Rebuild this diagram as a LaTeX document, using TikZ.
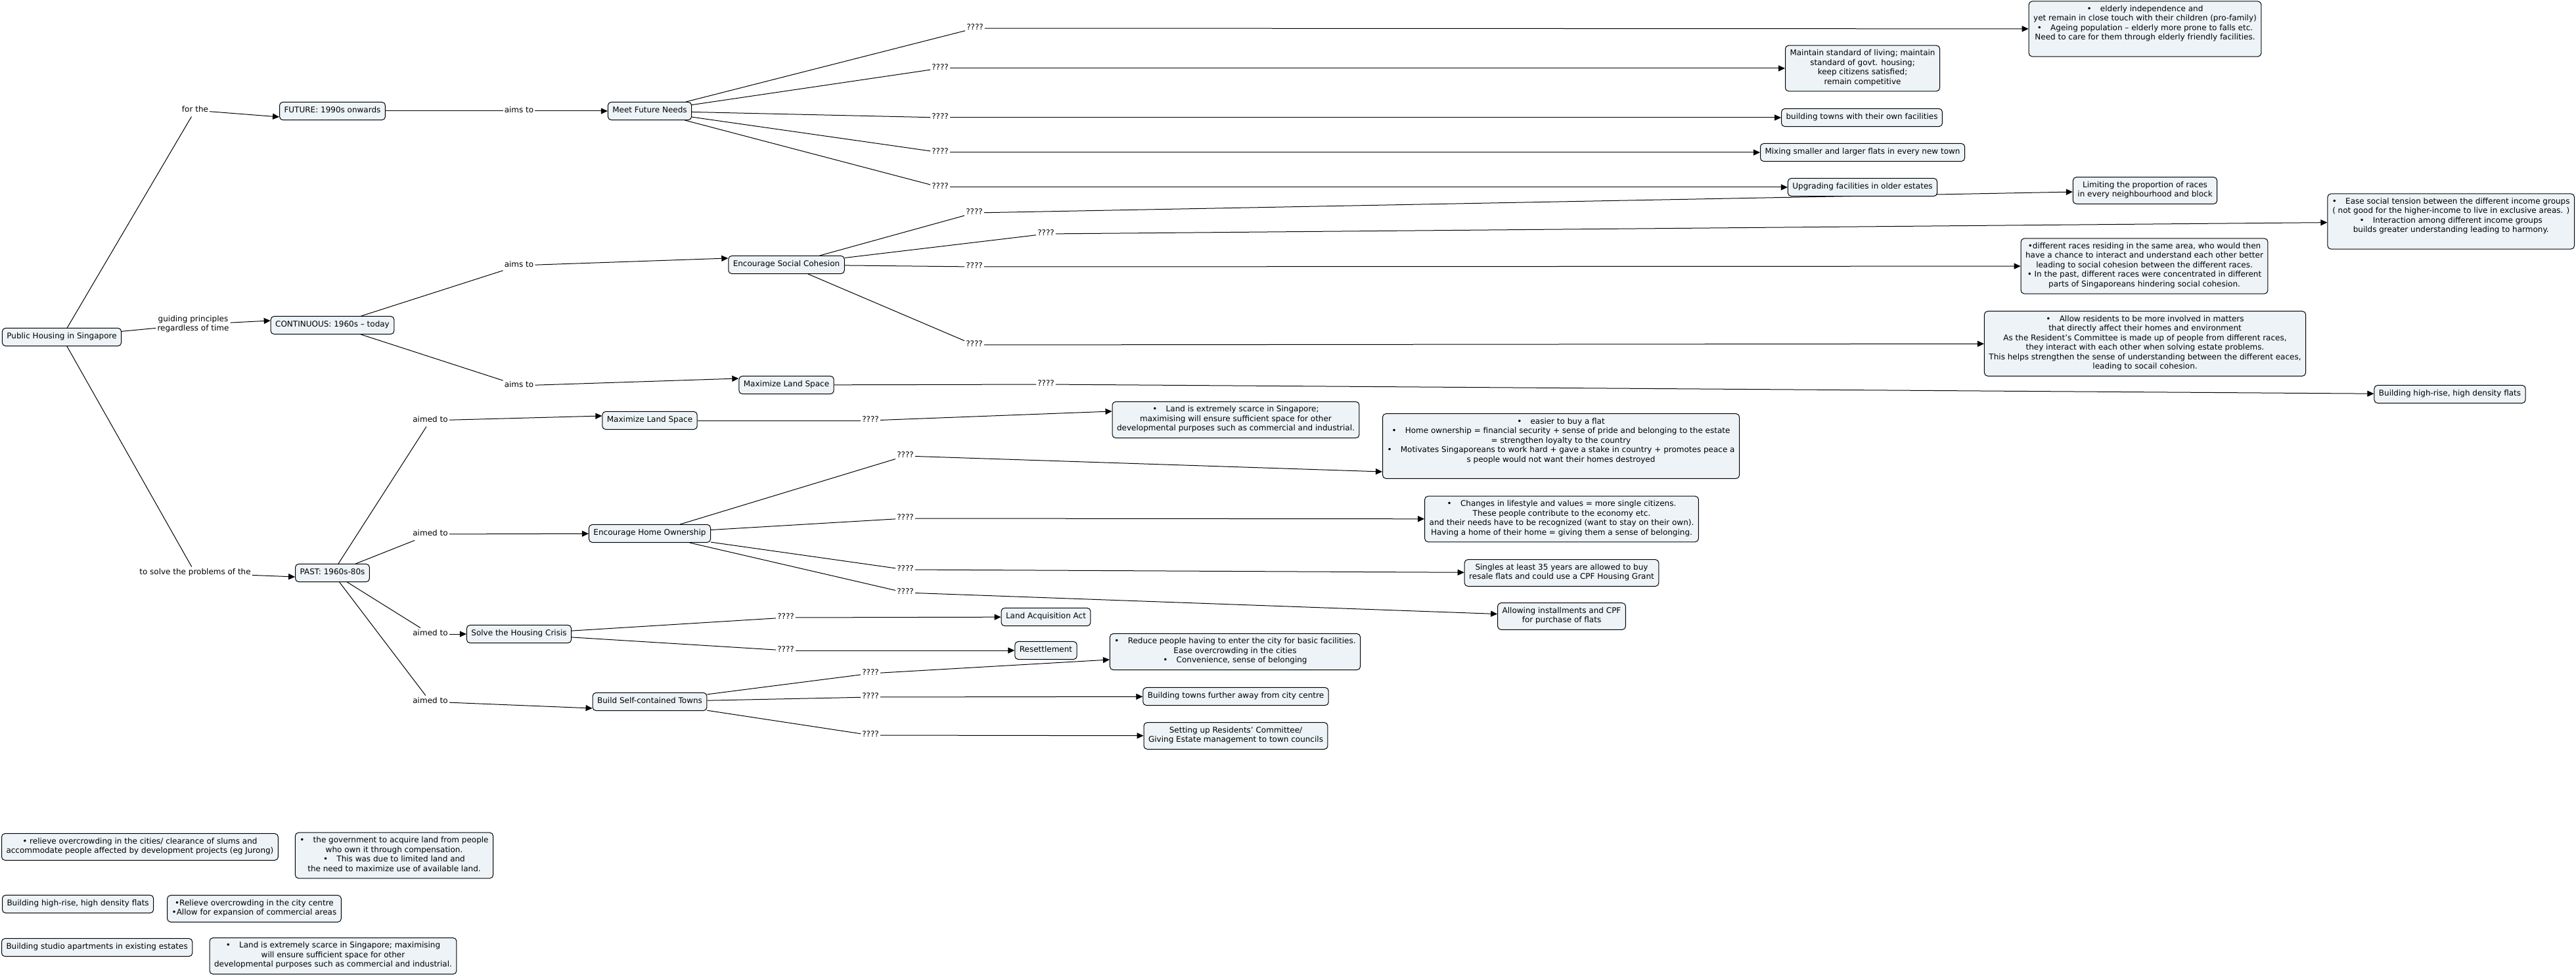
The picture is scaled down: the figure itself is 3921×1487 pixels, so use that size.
\documentclass[tikz,border=0pt]{standalone}
\usepackage{fontspec}
\setmainfont{DejaVu Sans}
\usetikzlibrary{arrows.meta}
\definecolor{boxfill}{RGB}{237,243,246}
\pgfdeclarelayer{background}
\pgfsetlayers{background,main}
\newcommand{\mybul}{•\hspace{1.1em}}
\begin{document}
\begin{tikzpicture}[x=1pt,y=-1pt,
  every node/.style={font=\fontsize{12}{14.5}\selectfont},
  concept/.style={draw=black, line width=1pt, rounded corners=5pt, fill=boxfill,
    align=center, inner xsep=7pt, inner ysep=6.3pt,
    execute at begin node=\strut, execute at end node=\strut},
  lbl/.style={inner sep=2pt, align=center,
    execute at begin node=\strut, execute at end node=\strut},
  link/.style={draw=black, line width=1pt},
  arr/.style={link, -{Triangle[length=10pt,width=9pt]}}
]
\useasboundingbox (0,0) rectangle (3921,1487);

% main concepts
\node[concept] (root) at (94,513) {Public Housing in Singapore};
\node[lbl] (guiding) at (294,494) {guiding principles\\regardless of time};
\node[lbl] (forthe) at (297,168) {for the};
\node[lbl] (tosolve) at (297,872) {to solve the problems of the};
\node[concept] (future) at (506,169) {FUTURE: 1990s onwards};
\node[concept] (cont) at (506,495) {CONTINUOUS: 1960s – today};
\node[concept] (past) at (506,872) {PAST: 1960s-80s};
\node[lbl] (aims1) at (790,169) {aims to};
\node[lbl] (aims2) at (790,404) {aims to};
\node[lbl] (aims3) at (790,587) {aims to};
\node[concept] (mfn) at (989,169) {Meet Future Needs};
\node[concept] (esc) at (1197,403) {Encourage Social Cohesion};
\node[concept] (mls1) at (1197,586) {Maximize Land Space};
\node[lbl] (aimed1) at (655,640) {aimed to};
\node[lbl] (aimed2) at (655,813) {aimed to};
\node[lbl] (aimed3) at (655,965) {aimed to};
\node[lbl] (aimed4) at (655,1068) {aimed to};
\node[concept] (mls2) at (989,640) {Maximize Land Space};
\node[concept] (eho) at (989,812) {Encourage Home Ownership};
\node[concept] (shc) at (790,965) {Solve the Housing Crisis};
\node[concept] (bsct) at (989,1068) {Build Self-contained Towns};

% linking phrases
\node[lbl] (qa) at (1484,43) {????};
\node[lbl] (qb) at (1431,104) {????};
\node[lbl] (qc) at (1431,179) {????};
\node[lbl] (qd) at (1431,232) {????};
\node[lbl] (qe) at (1431,285) {????};
\node[lbl] (qf) at (1483,324) {????};
\node[lbl] (qg) at (1592,356) {????};
\node[lbl] (qh) at (1483,406) {????};
\node[lbl] (qi) at (1483,525) {????};
\node[lbl] (qj) at (1592,585) {????};
\node[lbl] (qk) at (1325,640) {????};
\node[lbl] (ql) at (1378,694) {????};
\node[lbl] (qm) at (1378,789) {????};
\node[lbl] (qn) at (1378,867) {????};
\node[lbl] (qo) at (1378,902) {????};
\node[lbl] (qp) at (1196,940) {????};
\node[lbl] (qq) at (1196,990) {????};
\node[lbl] (qr) at (1325,1025) {????};
\node[lbl] (qs) at (1325,1061) {????};
\node[lbl] (qt) at (1325,1119) {????};

% targets
\node[concept] (elderly) at (3265,44) {\mybul elderly independence and\\yet remain in close touch with their children (pro-family)\\ \mybul Ageing population – elderly more prone to falls etc.\\Need to care for them through elderly friendly facilities.\\ \mbox{}};
\node[concept] (maintain) at (2835,104) {Maintain standard of living; maintain\\standard of govt. housing;\\keep citizens satisfied;\\remain competitive};
\node[concept] (towns) at (2834,179) {building towns with their own facilities};
\node[concept] (mixing) at (2835,232) {Mixing smaller and larger flats in every new town};
\node[concept] (upgrading) at (2835,285) {Upgrading facilities in older estates};
\node[concept] (limiting) at (3265,290) {Limiting the proportion of races\\in every neighbourhood and block};
\node[concept, anchor=east] (ease) at (3919,337) {\mybul Ease social tension between the different income groups\\( not good for the higher-income to live in exclusive areas. )\\ \mybul Interaction among different income groups\\builds greater understanding leading to harmony.\\ \mbox{}};
\node[concept] (races) at (3264,405) {•different races residing in the same area, who would then\\have a chance to interact and understand each other better\\leading to social cohesion between the different races.\\• In the past, different races were concentrated in different\\parts of Singaporeans hindering social cohesion.};
\node[concept] (allow) at (3265,523) {\mybul Allow residents to be more involved in matters\\that directly affect their homes and environment\\As the Resident's Committee is made up of people from different races,\\they interact with each other when solving estate problems.\\This helps strengthen the sense of understanding between the different eaces,\\leading to socail cohesion.};
\node[concept] (bhr) at (3729,600) {Building high-rise, high density flats};
\node[concept] (scarce) at (1881,639) {\mybul Land is extremely scarce in Singapore;\\maximising will ensure sufficient space for other\\developmental purposes such as commercial and industrial.};
\node[concept] (easier) at (2376,679) {\mybul easier to buy a flat\\ \mybul Home ownership = financial security + sense of pride and belonging to the estate\\= strengthen loyalty to the country\\ \mybul Motivates Singaporeans to work hard + gave a stake in country + promotes peace a\\s people would not want their homes destroyed\\ \mbox{}};
\node[concept] (changes) at (2377,790) {\mybul Changes in lifestyle and values = more single citizens.\\These people contribute to the economy etc.\\and their needs have to be recognized (want to stay on their own).\\Having a home of their home = giving them a sense of belonging.};
\node[concept] (singles) at (2377,872) {Singles at least 35 years are allowed to buy\\resale flats and could use a CPF Housing Grant};
\node[concept] (installments) at (2377,938) {Allowing installments and CPF\\for purchase of flats};
\node[concept] (laa) at (1592,939) {Land Acquisition Act};
\node[concept] (resettle) at (1592,990) {Resettlement};
\node[concept] (reduce) at (1880,992) {\mybul Reduce people having to enter the city for basic facilities.\\Ease overcrowding in the cities\\ \mybul Convenience, sense of belonging};
\node[concept] (further) at (1881,1060) {Building towns further away from city centre};
\node[concept] (setting) at (1881,1120) {Setting up Residents’ Committee/\\Giving Estate management to town councils};

% unconnected concepts
\node[concept, anchor=west] (relieve) at (2,1289) {• relieve overcrowding in the cities/ clearance of slums and\\accommodate people affected by development projects (eg Jurong)};
\node[concept] (gov) at (600,1302) {\mybul the government to acquire land from people\\who own it through compensation.\\ \mybul This was due to limited land and\\the need to maximize use of available land.};
\node[concept, anchor=west] (bhrb) at (3,1376) {Building high-rise, high density flats};
\node[concept] (citycentre) at (387,1383) {•Relieve overcrowding in the city centre\\•Allow for expansion of commercial areas};
\node[concept, anchor=west] (studio) at (2,1442) {Building studio apartments in existing estates};
\node[concept] (scarceb) at (507,1455) {\mybul Land is extremely scarce in Singapore; maximising\\will ensure sufficient space for other\\developmental purposes such as commercial and industrial.};

\begin{pgfonlayer}{background}
\draw[link] (root) -- (forthe);  \draw[arr] (forthe) -- ([yshift=-9pt]future.west);
\draw[link] (root) -- (guiding); \draw[arr] (guiding) -- ([yshift=7pt]cont.west);
\draw[link] (root) -- (tosolve); \draw[arr] (tosolve) -- ([yshift=-6pt]past.west);

\draw[link] (future) -- (aims1); \draw[arr] (aims1) -- (mfn);
\draw[link] (cont) -- (aims2);   \draw[arr] (aims2) -- ([yshift=10pt]esc.west);
\draw[link] (cont) -- (aims3);   \draw[arr] (aims3) -- ([yshift=10pt]mls1.west);

\draw[link] (mfn) -- (qa); \draw[arr] (qa) -- (elderly);
\draw[link] (mfn) -- (qb); \draw[arr] (qb) -- (maintain);
\draw[link] (mfn) -- (qc); \draw[arr] (qc) -- (towns);
\draw[link] (mfn) -- (qd); \draw[arr] (qd) -- (mixing);
\draw[link] (mfn) -- (qe); \draw[arr] (qe) -- (upgrading);

\draw[link] (esc) -- (qf); \draw[arr] (qf) -- (limiting);
\draw[link] (esc) -- (qg); \draw[arr] (qg) -- (ease);
\draw[link] (esc) -- (qh); \draw[arr] (qh) -- (races);
\draw[link] (esc) -- (qi); \draw[arr] (qi) -- (allow);
\draw[link] (mls1) -- (qj); \draw[arr] (qj) -- (bhr);

\draw[link] (past) -- (aimed1); \draw[arr] (aimed1) -- ([yshift=7pt]mls2.west);
\draw[link] (past) -- (aimed2); \draw[arr] (aimed2) -- (eho);
\draw[link] (past) -- (aimed3); \draw[arr] (aimed3) -- (shc);
\draw[link] (past) -- (aimed4); \draw[arr] (aimed4) -- ([yshift=-10pt]bsct.west);

\draw[link] (mls2) -- (qk); \draw[arr] (qk) -- ([yshift=13pt]scarce.west);
\draw[link] (eho) -- (ql); \draw[arr] (ql) -- ([yshift=-39pt]easier.west);
\draw[link] (eho) -- (qm); \draw[arr] (qm) -- (changes);
\draw[link] (eho) -- (qn); \draw[arr] (qn) -- (singles);
\draw[link] (eho) -- (qo); \draw[arr] (qo) -- (installments);
\draw[link] (shc) -- (qp); \draw[arr] (qp) -- (laa);
\draw[link] (shc) -- (qq); \draw[arr] (qq) -- (resettle);
\draw[link] (bsct) -- (qr); \draw[arr] (qr) -- ([yshift=-12pt]reduce.west);
\draw[link] (bsct) -- (qs); \draw[arr] (qs) -- (further);
\draw[link] (bsct) -- (qt); \draw[arr] (qt) -- (setting);
\end{pgfonlayer}
\end{tikzpicture}
\end{document}
